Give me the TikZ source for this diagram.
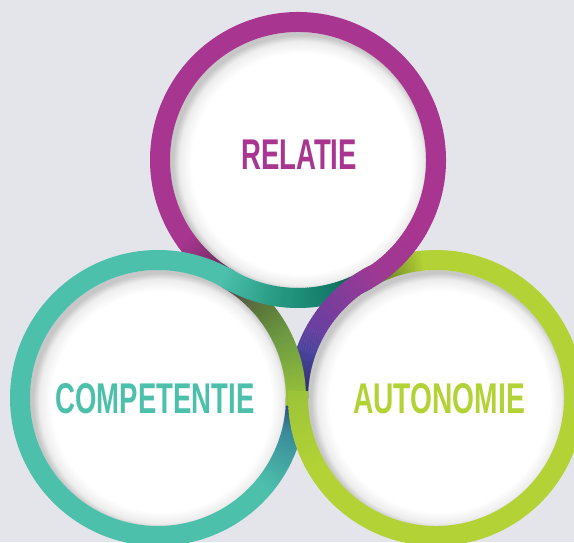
\documentclass[tikz,border=0pt]{standalone}
\usepackage{fontspec}
\setmainfont{Liberation Sans}

\definecolor{bgrey}{HTML}{E4E5EB}
\definecolor{purp}{HTML}{A83590}
\definecolor{purpdk}{HTML}{5E2E55}
\definecolor{tviol}{HTML}{9A3A94}
\definecolor{tealc}{HTML}{4DC0AB}
\definecolor{tmid}{HTML}{23957F}
\definecolor{tdark}{HTML}{137A68}
\definecolor{tdeep}{HTML}{0B4F4A}
\definecolor{lime}{HTML}{B2D235}
\definecolor{limedk}{HTML}{55652A}
\definecolor{olvdk}{HTML}{5A3A55}
\definecolor{olvmid}{HTML}{5C7A3A}
\definecolor{olv}{HTML}{6F9C42}
\definecolor{olvlt}{HTML}{9CC43A}
\definecolor{violet}{HTML}{6A3FA0}
\definecolor{indigo}{HTML}{4A449C}
\definecolor{navy}{HTML}{2C2F66}
\definecolor{tblue}{HTML}{3A8C9A}
\definecolor{tnavy}{HTML}{2D3F74}

% soft grey rim on the inside of each white disc
\pgfdeclareradialshading{discshade}{\pgfpoint{1.2bp}{-1.2bp}}{%
  color(0bp)=(white); color(21.5bp)=(white); color(23.8bp)=(white!93!black);
  color(25bp)=(white!78!black); color(50bp)=(white!78!black)}

% ring piece with a colour run: centre, from, to, colour at start, colour at end
\newcommand\bandarc[5]{%
  \foreach \k in {0,...,23}{%
    \pgfmathsetmacro\aa{#2+(#3-(#2))*\k/24}%
    \pgfmathsetmacro\bb{#2+(#3-(#2))*(\k+1.3)/24}%
    \pgfmathtruncatemacro\pp{100-100*\k/23}%
    \draw[band,#4!\pp!#5] (#1) ++(\aa:138pt) arc[start angle=\aa,end angle=\bb,radius=138pt];
  }}

\begin{document}
\begin{tikzpicture}[x=1pt,y=1pt,
    band/.style={line width=20pt},
    caption/.style={font=\fontsize{43}{43}\selectfont\bfseries, inner sep=0pt}]

\clip (0,0) rectangle (574,542);
\fill[bgrey] (0,0) rectangle (574,542);

\coordinate (T) at (298,382);
\coordinate (L) at (158,144);
\coordinate (R) at (436,144);

% white discs
\foreach \c in {T,L,R}
  \shade[shading=discshade] (\c) circle (128pt);

% pieces running under a crossing
\bandarc{T}{215}{240}{purp}{purpdk}
\bandarc{L}{60}{40}{olvdk}{olvmid}
\bandarc{R}{455}{480}{lime}{limedk}
\bandarc{T}{285}{300}{tdark}{tdeep}
\bandarc{R}{160}{180}{indigo}{navy}
\bandarc{L}{320}{345}{tealc}{tblue}
\bandarc{L}{345}{360}{tblue}{tnavy}

% main bodies
\draw[band,purp] (T) ++(-30:138pt) arc[start angle=-30,end angle=215.5,radius=138pt];
\draw[band,tealc] (L) ++(90:138pt) arc[start angle=90,end angle=320.5,radius=138pt];
\draw[band,lime] (R) ++(210:138pt) arc[start angle=210,end angle=455.5,radius=138pt];
\bandarc{T}{265}{285}{tmid}{tdark}
\bandarc{R}{150}{160}{violet}{indigo}
\bandarc{L}{40}{25}{olvmid}{olv}

% pieces running over a crossing, started a little before it
\bandarc{L}{57}{90}{tealc}{tealc}
\bandarc{T}{237}{265}{tealc}{tmid}
\bandarc{T}{-63}{-30}{tviol}{purp}
\bandarc{R}{117}{150}{tviol}{violet}
\bandarc{L}{25}{-3}{olv}{olvlt}
\bandarc{R}{177}{210}{olvlt}{lime}

% captions
\node[caption, text=purp] (relatie) at (299,387) {\scalebox{0.64}[1]{RELATIE}};
\node[caption, text=tealc] (competentie) at (155,143) {\scalebox{0.64}[1]{COMPETENTIE}};
\node[caption, text=lime] (autonomie) at (439,143) {\scalebox{0.655}[1]{AUTONOMIE}};

\end{tikzpicture}
\end{document}
